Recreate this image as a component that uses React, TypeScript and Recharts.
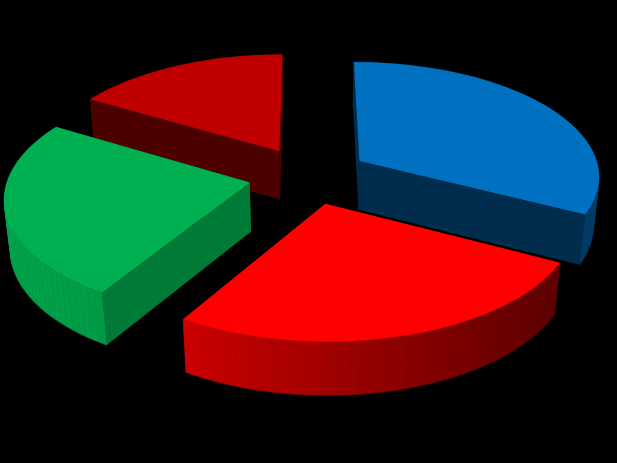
import { PieChart, Pie } from 'recharts';

const SLICE_NAMES = ['Slice 4', 'Slice 1', 'Slice 2', 'Slice 3'];
const SLICE_VALUES = [16.5, 32.6, 26.1, 24.8];

const TOP_COLORS = ['#C00000', '#0070C0', '#FF0000', '#00B050'];
const CUT_COLORS = ['#4D0000', '#002D4D', '#660000', '#007A37'];
const RIM_STOPS = [
  ['#4D0000', '#4D0000'],
  ['#00375F', '#003C66'],
  ['#CC0000', '#5C0000'],
  ['#00A54B', '#009A46'],
];

const data = SLICE_NAMES.map((name, i) => ({ name, value: SLICE_VALUES[i], idx: i }));

// perspective settings for the fake 3D pie
const TILT = 0.473;
const PERSP = 0.12;
const DEPTH = 50;
const DEPTH_SHRINK = 0.02;
const EXPLODE = 0.25;

type Pt = [number, number];

function Slice3D(props: any) {
  const { cx, cy, outerRadius, startAngle, endAngle, midAngle, payload } = props;
  const idx = payload.idx;
  const rad = (a: number) => (a * Math.PI) / 180;
  const ox = Math.cos(rad(midAngle)) * EXPLODE;
  const oy = -Math.sin(rad(midAngle)) * EXPLODE;

  const project = (x: number, y: number, z: number): Pt => {
    const d = 1 - PERSP * y + DEPTH_SHRINK * z;
    return [cx + (outerRadius * x) / d, cy + (outerRadius * TILT * y + DEPTH * z) / d];
  };
  const rimPoint = (a: number, z: number) =>
    project(ox + Math.cos(rad(a)), oy - Math.sin(rad(a)), z);
  const apex = (z: number) => project(ox, oy, z);

  const steps = Math.ceil(Math.abs(startAngle - endAngle) / 2);
  const angles = Array.from({ length: steps + 1 }, (_, i) => startAngle + ((endAngle - startAngle) * i) / steps);
  const topRim = angles.map((a) => rimPoint(a, 0));
  const lowRim = angles.map((a) => rimPoint(a, 1));

  const toPath = (pts: Pt[]) =>
    'M' + pts.map((p) => p[0].toFixed(2) + ',' + p[1].toFixed(2)).join('L') + 'Z';

  // signed area tells which cut faces point at the viewer
  const area = (pts: Pt[]) =>
    pts.reduce((s, p, i) => {
      const q = pts[(i + 1) % pts.length];
      return s + p[0] * q[1] - q[0] * p[1];
    }, 0);

  const startCut = [apex(0), topRim[0], lowRim[0], apex(1)];
  const endCut = [apex(0), topRim[steps], lowRim[steps], apex(1)];
  const cuts = [
    { pts: startCut, front: area(startCut) < 0 },
    { pts: endCut, front: area(endCut) > 0 },
  ];

  const xs = topRim.map((p) => p[0]);
  const gradId = 'rim' + idx;
  const rimFill = `url(#${gradId})`;

  return (
    <g>
      <defs>
        <linearGradient id={gradId} gradientUnits="userSpaceOnUse" x1={Math.min(...xs)} y1={0} x2={Math.max(...xs)} y2={0}>
          <stop offset="0%" stopColor={RIM_STOPS[idx][0]} />
          <stop offset="100%" stopColor={RIM_STOPS[idx][1]} />
        </linearGradient>
      </defs>
      {cuts.filter((c) => !c.front).map((c, i) => (
        <path key={'b' + i} d={toPath(c.pts)} fill={CUT_COLORS[idx]} />
      ))}
      {angles.slice(1).map((_, i) => (
        <path
          key={'r' + i}
          d={toPath([topRim[i], topRim[i + 1], lowRim[i + 1], lowRim[i]])}
          fill={rimFill}
          stroke={rimFill}
          strokeWidth={0.6}
        />
      ))}
      {cuts.filter((c) => c.front).map((c, i) => (
        <path key={'f' + i} d={toPath(c.pts)} fill={CUT_COLORS[idx]} />
      ))}
      <path d={toPath([apex(0), ...topRim])} fill={TOP_COLORS[idx]} />
    </g>
  );
}

export default function App() {
  return (
    <div style={{ position: 'fixed', left: 0, top: 0, width: 617, height: 463, background: '#000' }}>
      <PieChart width={617} height={463} margin={{ top: 0, right: 0, bottom: 0, left: 0 }}>
        <Pie
          data={data}
          dataKey="value"
          nameKey="name"
          cx={308.6}
          cy={175.5}
          innerRadius={0}
          outerRadius={241}
          startAngle={149.4}
          endAngle={-210.6}
          paddingAngle={0}
          stroke="none"
          isAnimationActive={false}
          shape={(p: any) => <Slice3D {...p} />}
        />
      </PieChart>
    </div>
  );
}
